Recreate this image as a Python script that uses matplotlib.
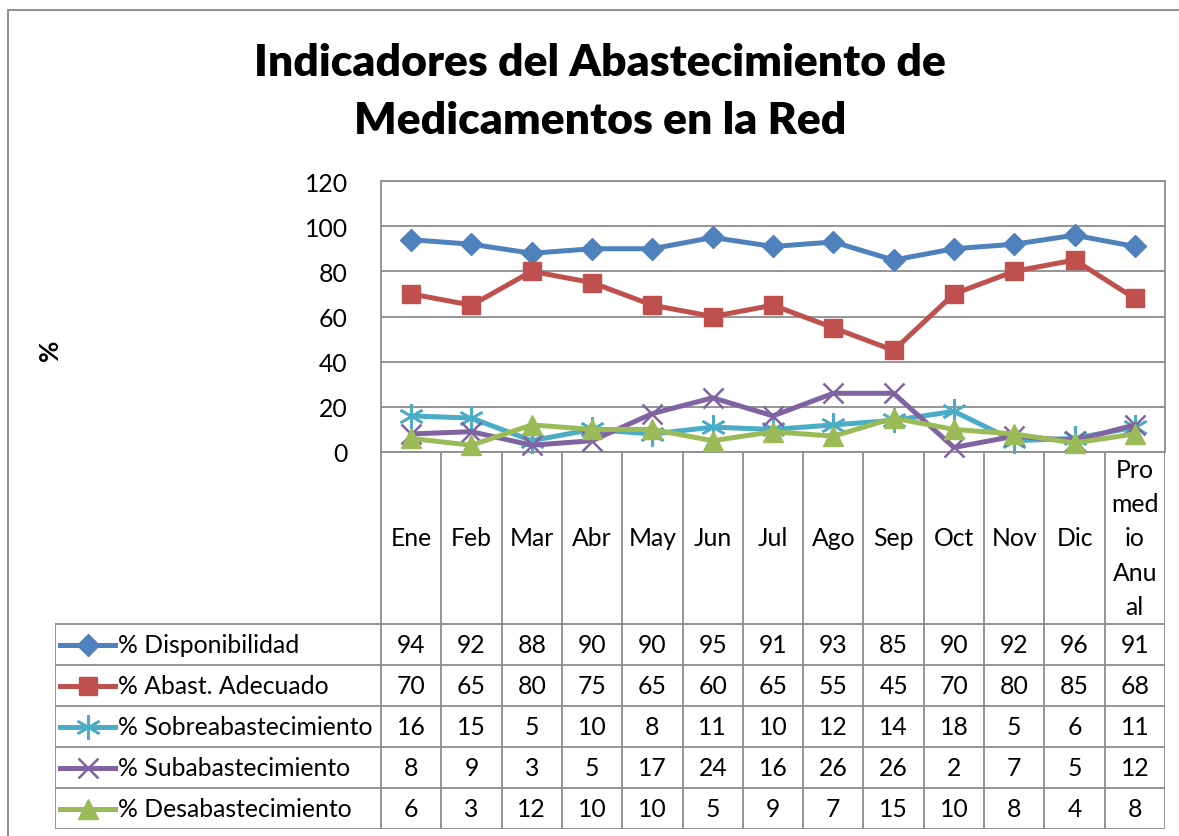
import matplotlib.pyplot as plt
from matplotlib.lines import Line2D
from matplotlib.patches import Rectangle
import numpy as np

plt.rcParams['font.family'] = ['Lato', 'DejaVu Sans']

meses = ['Ene', 'Feb', 'Mar', 'Abr', 'May', 'Jun', 'Jul', 'Ago', 'Sep', 'Oct', 'Nov', 'Dic',
         'Pro\nmed\nio\nAnu\nal']
disponibilidad = [94, 92, 88, 90, 90, 95, 91, 93, 85, 90, 92, 96, 91]
adecuado = [70, 65, 80, 75, 65, 60, 65, 55, 45, 70, 80, 85, 68]
sobre = [16, 15, 5, 10, 8, 11, 10, 12, 14, 18, 5, 6, 11]
sub = [8, 9, 3, 5, 17, 24, 16, 26, 26, 2, 7, 5, 12]
desab = [6, 3, 12, 10, 10, 5, 9, 7, 15, 10, 8, 4, 8]

series = [
    ('% Disponibilidad', disponibilidad, '#4F81BD', 'D', 11),
    ('% Abast. Adecuado', adecuado, '#C0504D', 's', 13),
    ('% Sobreabastecimiento', sobre, '#4BACC6', (6, 2, 0), 18),
    ('% Subabastecimiento', sub, '#8064A2', 'x', 15),
    ('% Desabastecimiento', desab, '#9BBB59', '^', 15),
]

W, H = 1179, 837
fig = plt.figure(figsize=(W / 100, H / 100), dpi=100)
grid_c = '#8C8C8C'
fs = 17.8

# marco del gráfico
fig.add_artist(Rectangle((8 / W, -0.1), 1.2, 1 - 11 / H + 0.1, transform=fig.transFigure,
                         fill=False, edgecolor='#868686', lw=1.3))

fig.text(600 / W, 1 - 63 / H, 'Indicadores del Abastecimiento de', ha='center', va='center',
         fontsize=32, fontweight='heavy')
fig.text(600 / W, 1 - 121 / H, 'Medicamentos en la Red', ha='center', va='center',
         fontsize=32, fontweight='heavy')
fig.text(50 / W, 1 - 350 / H, '%', ha='center', va='center', rotation=90,
         fontsize=fs + 1, fontweight='bold')

# --- área de trazado ---
pl, pr, pt, pb = 381, 1165, 182, 453
ax = fig.add_axes([pl / W, 1 - pb / H, (pr - pl) / W, (pb - pt) / H])
x = np.arange(len(meses))
for nombre, vals, color, mk, ms in series:
    ax.plot(x, vals, color=color, lw=3.6, marker=mk, markersize=ms,
            markeredgewidth=1.8 if mk in ('x', (6, 2, 0)) else 1, markeredgecolor=color,
            clip_on=False, zorder=3)
ax.set_xlim(-0.5, len(meses) - 0.5)
ax.set_ylim(0, 120)
ax.set_yticks(range(0, 121, 20))
ax.set_xticks([])
ax.grid(axis='y', color=grid_c, lw=1.3)
ax.set_axisbelow(True)
for s in ax.spines.values():
    s.set_color(grid_c)
    s.set_linewidth(1.3)
ax.tick_params(axis='y', length=0, labelsize=fs, pad=24)

# --- tabla de datos ---
tl, tr, tt, tb = 55, 1165, 453, 830
tax = fig.add_axes([tl / W, 1 - tb / H, (tr - tl) / W, (tb - tt) / H])
cw = (pr - pl) / len(meses)
leg_w = (pl - tl) / cw
tax.set_xlim(-0.5 - leg_w, len(meses) - 0.5)
tax.set_ylim(tb - tt, 0)
tax.axis('off')
head_h = 172
row_h = (tb - tt - head_h) / len(series)
lk = dict(color=grid_c, lw=1.3, solid_capstyle='projecting')

for i in range(len(meses) + 1):
    tax.plot([i - 0.5, i - 0.5], [0, tb - tt], **lk)
for j in range(len(series) + 1):
    y = head_h + j * row_h
    tax.plot([-0.5 - leg_w, len(meses) - 0.5], [y, y], **lk)
tax.plot([-0.5 - leg_w, -0.5 - leg_w], [head_h, tb - tt], **lk)

for i, m in enumerate(meses):
    tax.text(i, head_h / 2, m, ha='center', va='center', fontsize=fs, linespacing=1.58)

for j, (nombre, vals, color, mk, ms) in enumerate(series):
    yc = head_h + (j + 0.5) * row_h
    for i, v in enumerate(vals):
        tax.text(i, yc, str(v), ha='center', va='center', fontsize=fs)
    x0 = -0.5 - leg_w + 5 / cw
    x1 = x0 + 55 / cw
    tax.add_line(Line2D([x0, (x0 + x1) / 2, x1], [yc, yc, yc], color=color, lw=3.6,
                        marker=mk, markevery=[1], markersize=ms, markeredgecolor=color,
                        markeredgewidth=1.8 if mk in ('x', (6, 2, 0)) else 1))
    tax.text(x1 + 3 / cw, yc, nombre, ha='left', va='center', fontsize=fs)

fig.savefig('out.png', dpi=100)
